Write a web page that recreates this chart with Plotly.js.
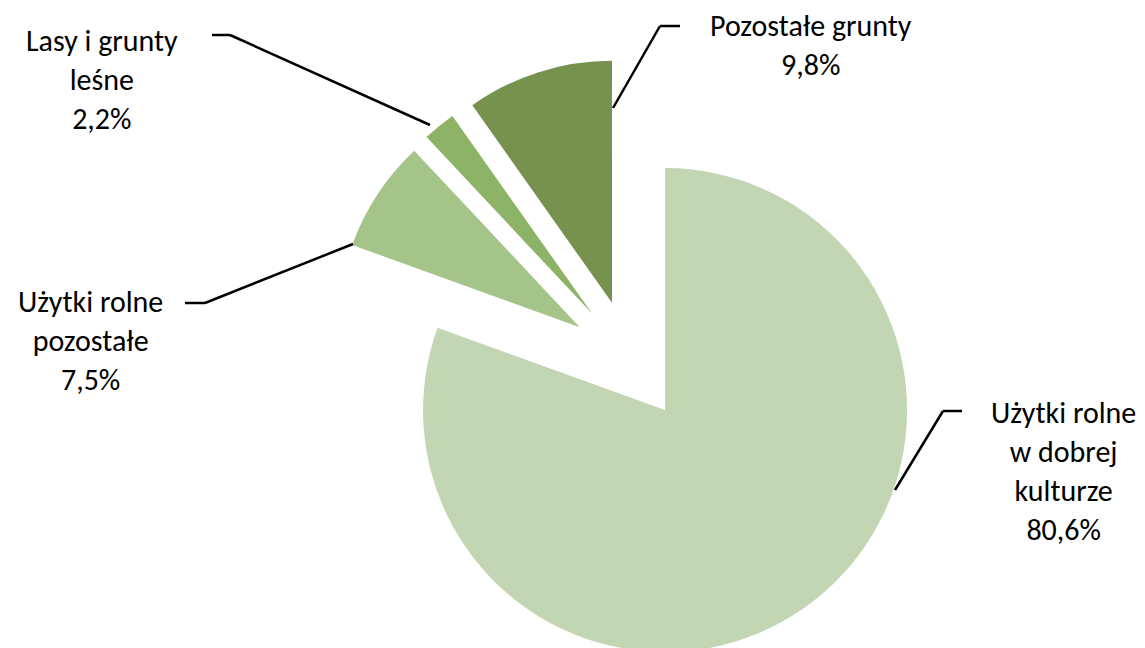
<!DOCTYPE html>
<html>
<head>
<meta charset="utf-8">
<script src="https://cdn.plot.ly/plotly-3.0.1.min.js"></script>
<style>
html, body { margin: 0; padding: 0; overflow: hidden; background: #ffffff; }
#chart { width: 1145px; height: 700px; }
</style>
</head>
<body>
<div id="chart"></div>
<script>
// Data
const categories = ["Użytki rolne w dobrej kulturze", "Użytki rolne pozostałe", "Lasy i grunty leśne", "Pozostałe grunty"];
const labelLines = [["Użytki rolne", "w dobrej", "kulturze"], ["Użytki rolne", "pozostałe"], ["Lasy i grunty", "leśne"], ["Pozostałe grunty"]];
const values = [80.6, 7.5, 2.2, 9.8];
const valueLabels = ["80,6%", "7,5%", "2,2%", "9,8%"];
const colors = ["#C3D6B4", "#A5C48A", "#8DB466", "#76924E"];

const W = 1145, H = 700;
const px = x => x / W;
const py = y => 1 - y / H;

// label placement (pixel positions of block centres) and leader lines
const labelPos = [[1063, 471], [90, 340], [102, 79], [811, 45]];
const leaders = [
  [[962, 411], [943, 411], [895, 490]],
  [[185, 303], [205, 303], [353, 244]],
  [[212, 35], [230, 35], [430, 125]],
  [[680, 26], [660, 26], [613, 108]]
];

const trace = {
  type: "pie",
  labels: categories,
  values: values,
  sort: false,
  direction: "clockwise",
  rotation: 0,
  pull: [0.25, 0.25, 0.25, 0.25],
  marker: { colors: colors, line: { width: 0 } },
  textinfo: "none",
  hoverinfo: "none",
  showlegend: false,
  domain: { x: [327.8 / W, 932.8 / W], y: [1 - 663 / H, 1 - 58 / H] }
};

const annotations = categories.map((c, i) => ({
  xref: "paper", yref: "paper",
  x: px(labelPos[i][0]), y: py(labelPos[i][1]),
  xanchor: "center", yanchor: "middle",
  text: labelLines[i].concat([valueLabels[i]]).join("<br>"),
  showarrow: false, align: "center",
  font: { family: "Carlito, Lato, sans-serif", size: 30, color: "#000000" }
}));

const shapes = [];
leaders.forEach(pts => {
  for (let k = 0; k < pts.length - 1; k++) {
    shapes.push({
      type: "line", xref: "paper", yref: "paper",
      x0: px(pts[k][0]), y0: py(pts[k][1]),
      x1: px(pts[k + 1][0]), y1: py(pts[k + 1][1]),
      line: { color: "#000000", width: 2.5 }
    });
  }
});

const layout = {
  width: W, height: H,
  margin: { l: 0, r: 0, t: 0, b: 0 },
  paper_bgcolor: "#ffffff",
  plot_bgcolor: "#ffffff",
  annotations: annotations,
  shapes: shapes
};

Plotly.newPlot("chart", [trace], layout, { displayModeBar: false, staticPlot: true });
</script>
</body>
</html>
